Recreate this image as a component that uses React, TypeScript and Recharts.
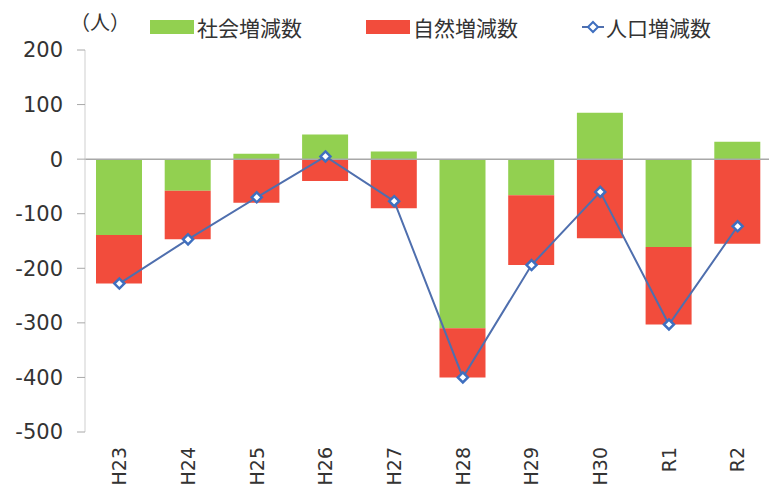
import React from 'react';
import { ComposedChart, Bar, Line, XAxis, YAxis, ReferenceLine } from 'recharts';

const years = ['H23', 'H24', 'H25', 'H26', 'H27', 'H28', 'H29', 'H30', 'R1', 'R2'];
const socialChange = [-139, -58, 10, 45, 14, -310, -66, 85, -161, 32];
const naturalChange = [-89, -89, -80, -40, -90, -90, -128, -145, -142, -155];
const populationChange = [-228, -147, -70, 5, -77, -400, -194, -60, -303, -123];
const yTicks = [200, 100, 0, -100, -200, -300, -400, -500];

const FONT = '"DejaVu Sans", "Noto Sans CJK JP", sans-serif';
const GREEN = '#92d050';
const RED = '#f24c3c';
const LINE = '#4f6fae';
const MARKER = '#3f6fbf';

const data = years.map((y, i) => ({
  year: y,
  social: socialChange[i],
  natural: naturalChange[i],
  total: populationChange[i],
}));

const Diamond = (props: any) => {
  const { cx, cy } = props;
  if (cx == null || cy == null) return null;
  const r = 5;
  return (
    <path
      d={`M${cx},${cy - r}L${cx + r},${cy}L${cx},${cy + r}L${cx - r},${cy}Z`}
      fill="#fff"
      stroke={MARKER}
      strokeWidth={2.5}
    />
  );
};

// rotated category labels, read bottom-to-top like the original
const YearTick = (props: any) => {
  const { x, y, payload } = props;
  const ty = y + 7;
  return (
    <text
      x={x}
      y={ty}
      transform={`rotate(-90 ${x} ${ty})`}
      textAnchor="end"
      dy="0.36em"
      fontSize={19}
      fontFamily={FONT}
      fill="#333"
    >
      {payload.value}
    </text>
  );
};

const legendItems = [
  { label: '社会増減数', kind: 'bar', color: GREEN, gap: 0 },
  { label: '自然増減数', kind: 'bar', color: RED, gap: 64 },
  { label: '人口増減数', kind: 'line', color: LINE, gap: 64 },
];

const ChartLegend = () => (
  <div
    style={{
      position: 'absolute', left: 150, top: 12, display: 'flex', alignItems: 'center',
      fontFamily: FONT, fontSize: 21, color: '#333',
    }}
  >
    {legendItems.map((it) => (
      <div key={it.label} style={{ display: 'flex', alignItems: 'center', marginLeft: it.gap }}>
        {it.kind === 'bar' ? (
          <div style={{ width: 44, height: 14, background: it.color, marginRight: 3 }} />
        ) : (
          <svg width={22} height={14} style={{ marginRight: 2 }}>
            <line x1={0} y1={7} x2={22} y2={7} stroke={it.color} strokeWidth={2} />
            <path d="M11,2L16,7L11,12L6,7Z" fill="#fff" stroke={MARKER} strokeWidth={2} />
          </svg>
        )}
        <span>{it.label}</span>
      </div>
    ))}
  </div>
);

export default function App() {
  return (
    <div style={{ position: 'absolute', left: 0, top: 0, width: 769, height: 491, overflow: 'hidden', background: '#fff' }}>
      <ComposedChart
        width={772}
        height={491}
        data={data}
        stackOffset="sign"
        margin={{ top: 50, right: 0, bottom: 0, left: 0 }}
      >
        <XAxis
          dataKey="year"
          axisLine={false}
          tickLine={false}
          tick={<YearTick />}
          height={59}
          interval={0}
        />
        <YAxis
          domain={[-500, 200]}
          ticks={yTicks}
          width={85}
          tickSize={8}
          tickMargin={14}
          axisLine={{ stroke: '#cfcfcf' }}
          tickLine={{ stroke: '#a8a8a8' }}
          tick={{ fontSize: 21, fontFamily: FONT, fill: '#333' }}
          interval={0}
        />
        <ReferenceLine y={0} stroke="#a8a8a8" strokeWidth={1.5} />
        <Bar dataKey="social" stackId="a" fill={GREEN} barSize={46} isAnimationActive={false} />
        <Bar dataKey="natural" stackId="a" fill={RED} barSize={46} isAnimationActive={false} />
        <Line
          dataKey="total"
          stroke={LINE}
          strokeWidth={2}
          dot={<Diamond />}
          isAnimationActive={false}
        />
      </ComposedChart>
      <div style={{ position: 'absolute', left: 70, top: 7, fontFamily: FONT, fontSize: 20, color: '#333' }}>（人）</div>
      <ChartLegend />
    </div>
  );
}
